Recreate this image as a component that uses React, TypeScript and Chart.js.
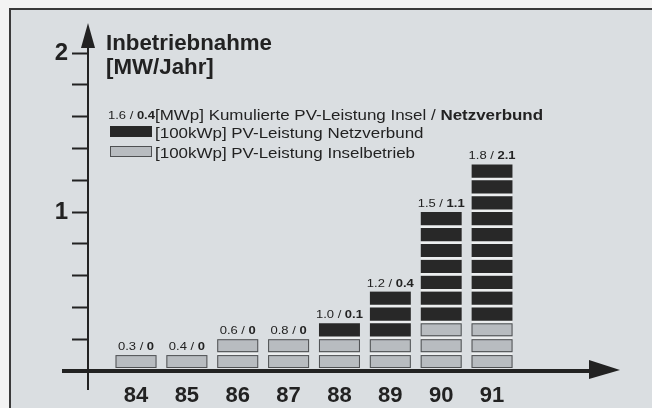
import React, { useEffect, useRef } from 'react';
import { Chart, registerables } from 'chart.js';

Chart.register(...registerables);

// ---- data ----
const years = [84, 85, 86, 87, 88, 89, 90, 91];
const yearLabels = ['84', '85', '86', '87', '88', '89', '90', '91'];
// number of 100 kWp blocks installed per year
const inselBlocks = [1, 1, 2, 2, 2, 2, 3, 3];
const netzBlocks = [0, 0, 0, 0, 1, 3, 7, 10];
// cumulative MWp labels (Insel / Netzverbund)
const cumInsel = ['0.3', '0.4', '0.6', '0.8', '1.0', '1.2', '1.5', '1.8'];
const cumNetz = ['0', '0', '0', '0', '0.1', '0.4', '1.1', '2.1'];
// y ticks in 100 kWp units (10 = 1 MW)
const yTickValues = [2, 4, 6, 8, 10, 12, 14, 16, 18, 20];
const yTickLabels: Record<number, string> = { 10: '1', 20: '2' };

const titleLines = ['Inbetriebnahme', '[MW/Jahr]'];
const legendCumSample = ['1.6 / ', '0.4'];
const legendCumText = ['[MWp] Kumulierte PV-Leistung Insel / ', 'Netzverbund'];
const legendNetz = '[100kWp] PV-Leistung Netzverbund';
const legendInsel = '[100kWp] PV-Leistung Inselbetrieb';

// ---- styles ----
const FONT = '"Liberation Sans", Arial, Helvetica, sans-serif';
const INK = '#222222';
const GRAY = '#b8bcc0';
const GRAY_EDGE = '#4e5052';
const BLACK = '#282828';
const GAP = '#eceeef';
const PANEL = '#dadee1';
const PAPER = '#f3f3f3';
const SX = 1.13; // horizontal stretch of the scanned small text

const maxBlocks = Math.max(...inselBlocks.map((g, i) => g + netzBlocks[i]));

function txt(ctx: CanvasRenderingContext2D, s: string, x: number, y: number, font: string, sx = SX) {
  ctx.save();
  ctx.font = font;
  const w = ctx.measureText(s).width * sx;
  ctx.translate(x, y);
  ctx.scale(sx, 1);
  ctx.fillText(s, 0, 0);
  ctx.restore();
  return w;
}
function tw(ctx: CanvasRenderingContext2D, s: string, font: string, sx = SX) {
  ctx.save();
  ctx.font = font;
  const w = ctx.measureText(s).width * sx;
  ctx.restore();
  return w;
}

export default function App() {
  const ref = useRef<HTMLCanvasElement>(null);

  useEffect(() => {
    const canvas = ref.current;
    if (!canvas) return;

    const datasets = Array.from({ length: maxBlocks }, (_, k) => ({
      label: 'block' + k,
      data: years.map((yr, i) => ({ x: yr, y: k < inselBlocks[i] + netzBlocks[i] ? 1 : null })),
      backgroundColor: years.map((_, i) => (k < inselBlocks[i] ? GRAY : BLACK)),
      borderColor: GAP,
      borderWidth: { top: 0, left: 0, right: 0, bottom: 3 },
      borderSkipped: false,
      barThickness: 41,
      stack: 's',
    }));

    const decor = {
      id: 'decor',
      beforeDraw(chart: any) {
        const { ctx, width, height } = chart;
        ctx.save();
        ctx.fillStyle = PAPER;
        ctx.fillRect(0, 0, width, height);
        ctx.fillStyle = PANEL;
        ctx.fillRect(10, 9, width, height);
        ctx.strokeStyle = '#3a3a3a';
        ctx.lineWidth = 2;
        ctx.beginPath();
        ctx.moveTo(10, height + 5);
        ctx.lineTo(10, 9);
        ctx.lineTo(width + 5, 9);
        ctx.stroke();
        ctx.restore();
      },
      afterDatasetsDraw(chart: any) {
        const { ctx, chartArea } = chart;
        const xs = chart.scales.x;
        const ys = chart.scales.y;
        ctx.save();
        // outline of gray blocks
        ctx.strokeStyle = GRAY_EDGE;
        ctx.lineWidth = 1;
        for (let k = 0; k < maxBlocks; k++) {
          const meta = chart.getDatasetMeta(k);
          meta.data.forEach((el: any, i: number) => {
            if (k >= inselBlocks[i]) return;
            const p = el.getProps(['x', 'y', 'base', 'width'], true);
            const top = Math.min(p.y, p.base);
            const bot = Math.max(p.y, p.base) - 3;
            ctx.strokeRect(p.x - p.width / 2 + 0.5, top + 0.5, p.width - 1, bot - top - 1);
          });
        }
        // axes
        ctx.fillStyle = INK;
        ctx.strokeStyle = INK;
        const y0 = ys.getPixelForValue(0);
        const ax = chartArea.left;
        ctx.lineWidth = 4;
        ctx.beginPath();
        ctx.moveTo(ax - 26, y0);
        ctx.lineTo(chartArea.right - 30, y0);
        ctx.stroke();
        ctx.beginPath();
        ctx.moveTo(chartArea.right, y0 - 1);
        ctx.lineTo(chartArea.right - 31, y0 - 11);
        ctx.lineTo(chartArea.right - 31, y0 + 8);
        ctx.closePath();
        ctx.fill();
        ctx.lineWidth = 2;
        ctx.beginPath();
        ctx.moveTo(ax, chartArea.top + 20);
        ctx.lineTo(ax, y0 + 19);
        ctx.stroke();
        ctx.beginPath();
        ctx.moveTo(ax, chartArea.top);
        ctx.lineTo(ax - 7, chartArea.top + 25);
        ctx.lineTo(ax + 7, chartArea.top + 25);
        ctx.closePath();
        ctx.fill();

        // value labels above bars
        ctx.textBaseline = 'alphabetic';
        ctx.textAlign = 'left';
        const nFont = '11.5px ' + FONT;
        const bFont = 'bold 11.5px ' + FONT;
        years.forEach((yr, i) => {
          const cx = xs.getPixelForValue(yr);
          const ty = ys.getPixelForValue(inselBlocks[i] + netzBlocks[i]) - 5;
          const a = cumInsel[i] + ' / ';
          const b = cumNetz[i];
          const wa = tw(ctx, a, nFont);
          const wb = tw(ctx, b, bFont);
          const sx = cx - (wa + wb) / 2;
          txt(ctx, a, sx, ty, nFont);
          txt(ctx, b, sx + wa, ty, bFont);
        });

        // title
        const lx = ax + 18;
        ctx.font = 'bold 22.3px ' + FONT;
        ctx.fillText(titleLines[0], lx, 50);
        ctx.fillText(titleLines[1], lx, 74);

        // legend line 1
        const lf = '15px ' + FONT;
        const lbf = 'bold 15px ' + FONT;
        let x = lx + 2;
        x += txt(ctx, legendCumSample[0], x, 119, nFont);
        x += txt(ctx, legendCumSample[1], x, 119, bFont);
        x += txt(ctx, legendCumText[0], x, 120, lf);
        txt(ctx, legendCumText[1], x, 120, lbf);

        // legend swatches
        ctx.fillStyle = BLACK;
        ctx.fillRect(lx + 4, 126, 42, 11);
        ctx.fillStyle = GRAY;
        ctx.fillRect(lx + 4, 146, 42, 11);
        ctx.strokeStyle = GRAY_EDGE;
        ctx.lineWidth = 1;
        ctx.strokeRect(lx + 4.5, 146.5, 41, 10);
        ctx.fillStyle = INK;
        txt(ctx, legendNetz, lx + 49, 138, lf);
        txt(ctx, legendInsel, lx + 49, 158, lf);
        ctx.restore();
      },
    };

    const chart = new Chart(canvas, {
      type: 'bar',
      data: { datasets: datasets as any },
      options: {
        animation: false,
        responsive: false,
        maintainAspectRatio: false,
        layout: { padding: { left: 0, top: 23, right: 32, bottom: 0 } },
        plugins: { legend: { display: false }, tooltip: { enabled: false } },
        scales: {
          x: {
            type: 'linear',
            min: 83.056,
            max: 93.516,
            offset: false,
            stacked: true,
            afterBuildTicks: (s: any) => {
              s.ticks = years.map((v) => ({ value: v }));
            },
            afterFit: (s: any) => {
              s.height = 37;
            },
            grid: { display: false },
            border: { display: false },
            ticks: {
              callback: (v: any) => yearLabels[years.indexOf(Number(v))] ?? '',
              font: { family: FONT, size: 22, weight: 'bold' },
              color: INK,
              padding: 4,
              maxRotation: 0,
              autoSkip: false,
            },
          },
          y: {
            type: 'linear',
            min: 0,
            max: 21.9,
            stacked: true,
            afterBuildTicks: (s: any) => {
              s.ticks = yTickValues.map((v) => ({ value: v }));
            },
            afterFit: (s: any) => {
              s.width = 88;
            },
            grid: {
              display: true,
              drawOnChartArea: false,
              drawTicks: true,
              tickLength: 16,
              tickWidth: 2,
              tickColor: INK,
            },
            border: { display: false },
            ticks: {
              callback: (v: any) => yTickLabels[Number(v)] ?? '',
              font: { family: FONT, size: 24, weight: 'bold' },
              color: INK,
              padding: 4,
              autoSkip: false,
            },
          },
        },
      },
      plugins: [decor],
    });
    return () => chart.destroy();
  }, []);

  return (
    <div style={{ position: 'fixed', left: 0, top: 0, width: 652, height: 408 }}>
      <canvas ref={ref} width={652} height={408} style={{ width: 652, height: 408, display: 'block' }} />
    </div>
  );
}
